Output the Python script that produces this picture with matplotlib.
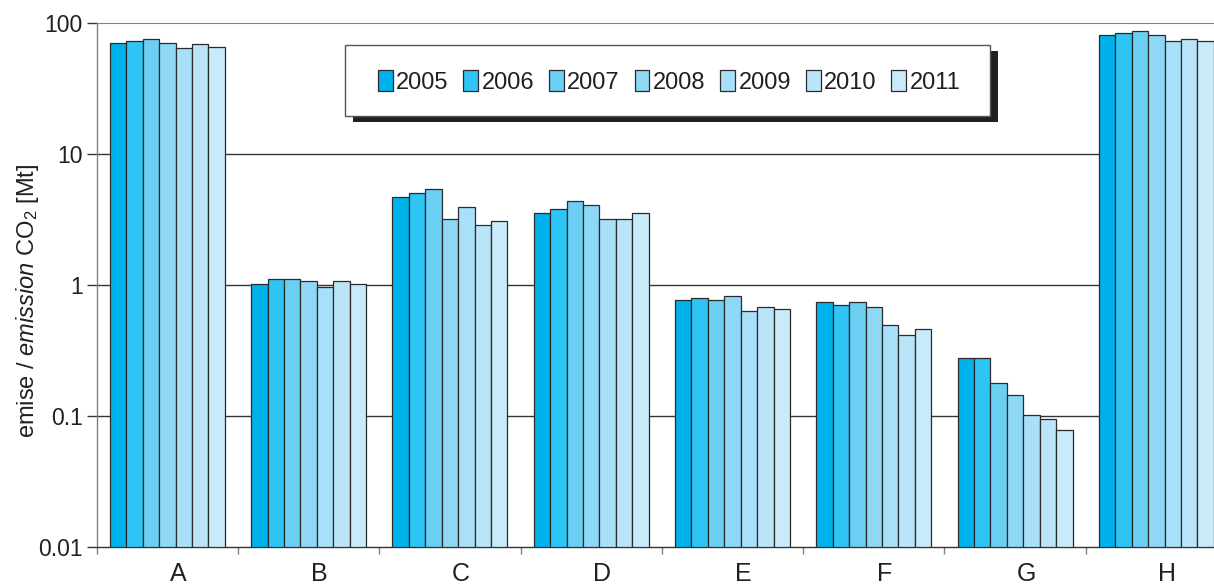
import matplotlib
matplotlib.use("Agg")
import matplotlib.pyplot as plt
from matplotlib.patches import Rectangle
import matplotlib.transforms as mtransforms
import numpy as np

plt.rcParams["font.family"] = ["Liberation Sans", "DejaVu Sans"]
plt.rcParams["mathtext.fontset"] = "custom"
plt.rcParams["mathtext.rm"] = "Liberation Sans"
plt.rcParams["mathtext.it"] = "Liberation Sans:italic"

# CO2 emissions [Mt] by source category and year
categories = ["A", "B", "C", "D", "E", "F", "G", "H"]
years = ["2005", "2006", "2007", "2008", "2009", "2010", "2011"]
em_2005 = [70.7, 1.00, 4.67, 3.55, 0.764, 0.738, 0.268, 81.4]
em_2006 = [73.3, 1.10, 5.01, 3.78, 0.791, 0.688, 0.268, 84.3]
em_2007 = [75.9, 1.10, 5.38, 4.36, 0.764, 0.738, 0.170, 87.3]
em_2008 = [70.7, 1.065, 3.17, 4.06, 0.820, 0.664, 0.134, 81.4]
em_2009 = [64.1, 0.96, 3.92, 3.17, 0.619, 0.484, 0.091, 73.3]
em_2010 = [68.8, 1.065, 2.86, 3.17, 0.664, 0.406, 0.085, 75.9]
em_2011 = [65.9, 1.00, 3.06, 3.55, 0.641, 0.451, 0.0688, 73.3]
series = [em_2005, em_2006, em_2007, em_2008, em_2009, em_2010, em_2011]

colors = ["#00B2EC", "#2EC5F4", "#6BCFF4", "#8ED8F6", "#A9E0F9", "#BAE5F9", "#C9EAF8"]
text_col = "#231f20"

W, H = 1214, 586
fig = plt.figure(figsize=(W / 100, H / 100), dpi=100)
ax_left, ax_right = 96.7 / W, 1227.0 / W
ax_bot, ax_top = (H - 547) / H, (H - 23) / H
ax = fig.add_axes([ax_left, ax_bot, ax_right - ax_left, ax_top - ax_bot])

ax.set_yscale("log")
ax.set_ylim(0.01, 100)
ax.set_xlim(0, len(categories))

x = np.arange(len(categories)) + 0.5
bw = 0.1163
handles = []
for i, (vals, col) in enumerate(zip(series, colors)):
    offs = (i - 3) * bw
    b = ax.bar(x + offs, vals, width=bw, bottom=0.01, color=col,
               edgecolor="#2a2a2a", linewidth=0.9, zorder=3, label=years[i])
    handles.append(b)

# horizontal gridlines
for v in [0.1, 1, 10]:
    ax.axhline(v, color="#333333", linewidth=1.0, zorder=1)
ax.axhline(100, color="#808080", linewidth=1.5, zorder=1)

for s in ["top", "right"]:
    ax.spines[s].set_visible(False)
ax.spines["left"].set_color("#808080")
ax.spines["left"].set_linewidth(1.0)
ax.spines["bottom"].set_color("#333333")
ax.spines["bottom"].set_linewidth(1.0)

ax.set_yticks([0.01, 0.1, 1, 10, 100])
ax.set_yticklabels(["0.01", "0.1", "1", "10", "100"])
ax.yaxis.set_minor_locator(matplotlib.ticker.NullLocator())
ax.tick_params(axis="y", which="major", length=7, width=1.0, color="#333333",
               labelsize=16.5, pad=3, labelcolor=text_col)

# category ticks on boundaries, labels near centres
ax.set_xticks(np.arange(len(categories) + 1))
ax.set_xticklabels([""] * (len(categories) + 1))
ax.set_xticks(x, minor=True)
ax.set_xticklabels(categories, minor=True)
ax.tick_params(axis="x", which="major", length=5, width=1.0, color="#808080")
ax.tick_params(axis="x", which="minor", length=0, labelsize=18, pad=11,
               labelcolor=text_col)
shift = mtransforms.ScaledTranslation(11 / 100, 0, fig.dpi_scale_trans)
for lbl in ax.get_xticklabels(minor=True):
    lbl.set_transform(lbl.get_transform() + shift)

fig.text(28 / W, 1 - 301 / H, r"emise / $\it{emission}$ CO$_2$ [Mt]",
         rotation=90, ha="center", va="center", fontsize=17, color=text_col)

# legend box with solid drop shadow
bx0, by0, bx1, by1 = 345, 45, 990, 116
fig.patches.append(Rectangle(((bx0 + 8) / W, 1 - (by1 + 6) / H),
                             (bx1 - bx0) / W, (by1 - by0) / H,
                             transform=fig.transFigure, facecolor="#231f20",
                             edgecolor="none", zorder=5))
fig.patches.append(Rectangle((bx0 / W, 1 - by1 / H), (bx1 - bx0) / W, (by1 - by0) / H,
                             transform=fig.transFigure, facecolor="white",
                             edgecolor="#555555", linewidth=1.0, zorder=6))

leg = fig.legend(handles=handles, labels=years, loc="center",
                 bbox_to_anchor=(669 / W, 1 - 82 / H),
                 bbox_transform=fig.transFigure, ncol=7, frameon=False,
                 fontsize=17, handlelength=0.63, handleheight=1.0,
                 handletextpad=0.15, columnspacing=0.62, borderpad=0)
leg.set_zorder(7)
for t in leg.get_texts():
    t.set_color(text_col)

fig.savefig("out.png", dpi=100)
